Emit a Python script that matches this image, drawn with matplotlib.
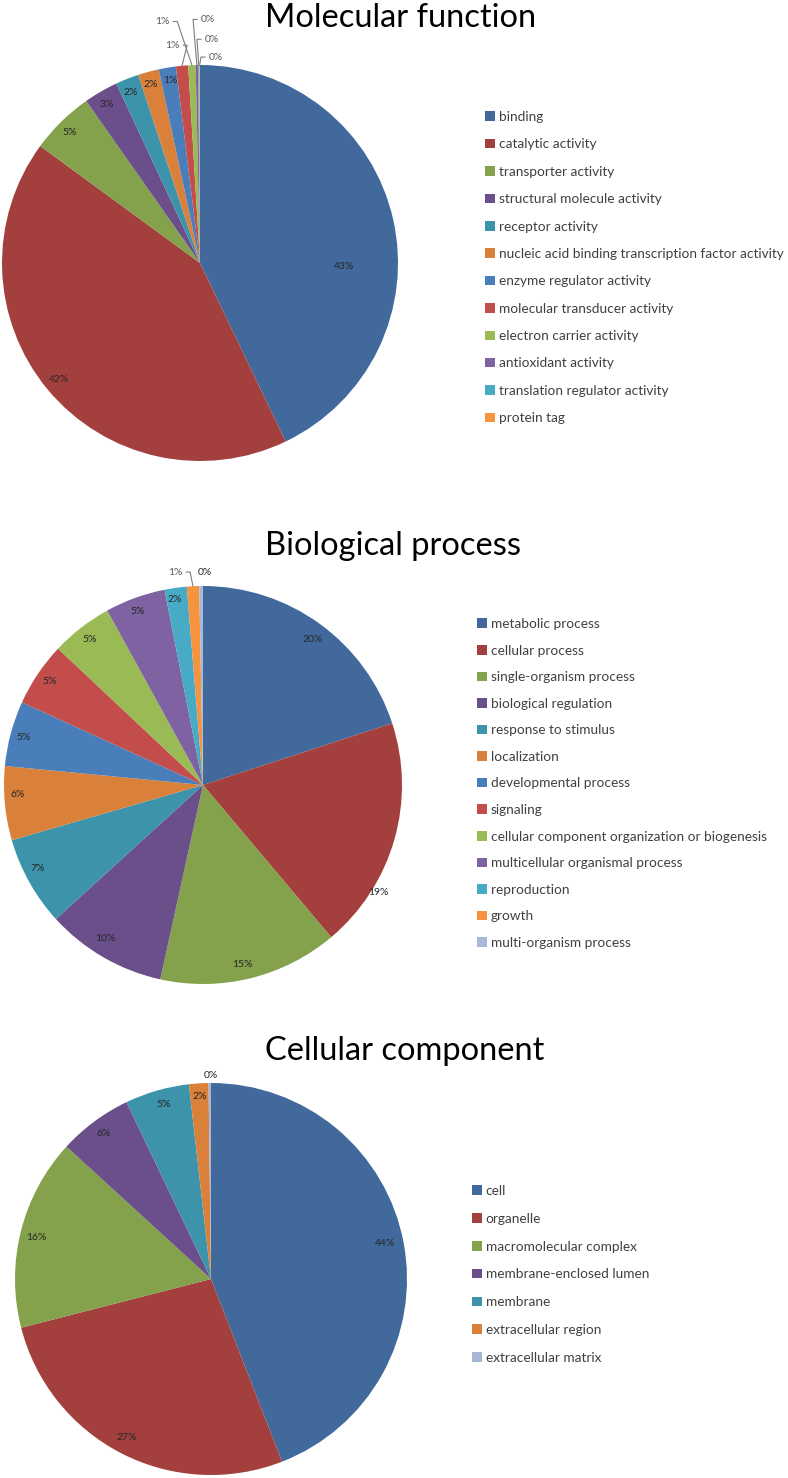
import matplotlib
matplotlib.use('Agg')
import matplotlib.pyplot as plt
import numpy as np

plt.rcParams['font.family'] = ['Lato', 'DejaVu Sans']

# Molecular function
mf_names = ['binding', 'catalytic activity', 'transporter activity', 'structural molecule activity',
            'receptor activity', 'nucleic acid binding transcription factor activity',
            'enzyme regulator activity', 'molecular transducer activity', 'electron carrier activity',
            'antioxidant activity', 'translation regulator activity', 'protein tag']
mf_values = [42.9, 42.2, 5.2, 2.8, 1.9, 1.7, 1.4, 1.0, 0.6, 0.2, 0.1, 0.05]

# Biological process
bp_names = ['metabolic process', 'cellular process', 'single-organism process', 'biological regulation',
            'response to stimulus', 'localization', 'developmental process', 'signaling',
            'cellular component organization or biogenesis', 'multicellular organismal process',
            'reproduction', 'growth', 'multi-organism process']
bp_values = [20.0, 18.9, 14.6, 9.8, 7.3, 6.0, 5.3, 5.2, 5.0, 4.9, 1.8, 1.0, 0.3]

# Cellular component
cc_names = ['cell', 'organelle', 'macromolecular complex', 'membrane-enclosed lumen', 'membrane',
            'extracellular region', 'extracellular matrix']
cc_values = [44.1, 26.9, 15.8, 6.1, 5.3, 1.6, 0.2]

colors = ['#41699C', '#A3403D', '#84A14B', '#6A4F8A', '#3D93AA', '#D9803A',
          '#4A7EBB', '#C24D4A', '#99BA55', '#7E62A1', '#47ABC6', '#F5933F', '#A7B9DB']
cc_colors = colors[:6] + ['#A9B7D6']

# label spots (in pie radii) and which labels get a leader line
mf_lbl = [(0.73, -0.02), (-0.71, -0.59), (-0.66, 0.66), (-0.47, 0.80), (-0.35, 0.86), (-0.25, 0.90),
          (-0.15, 0.92), (-0.14, 1.10), (-0.19, 1.22), (0.04, 1.23), (0.06, 1.13), (0.08, 1.04)]
mf_lead = [7, 8, 9, 10, 11]
bp_lbl = [(0.55, 0.73), (0.88, -0.54), (0.20, -0.90), (-0.49, -0.77), (-0.83, -0.42), (-0.93, -0.05),
          (-0.90, 0.24), (-0.77, 0.52), (-0.57, 0.73), (-0.33, 0.87), (-0.14, 0.93), (-0.14, 1.07),
          (0.01, 1.07)]
bp_lead = [11]
cc_lbl = [(0.89, 0.18), (-0.43, -0.81), (-0.89, 0.21), (-0.55, 0.74), (-0.24, 0.89), (-0.06, 0.93),
          (0.0, 1.04)]
cc_lead = []

W, H = 788, 1478
fig = plt.figure(figsize=(W / 100, H / 100), dpi=100)


def draw(values, names, cols, title, cx, cy, r, lbl, lead, title_y, leg_x, leg_y, leg_sp):
    ax = fig.add_axes([(cx - r) / W, (H - cy - r) / H, 2 * r / W, 2 * r / H])
    wedges, texts, autotexts = ax.pie(values, colors=cols, startangle=90,
                                      counterclock=False, autopct='%.0f%%',
                                      wedgeprops=dict(linewidth=0),
                                      textprops=dict(fontsize=7.5, color='#262626'))
    ax.set_xlim(-1, 1)
    ax.set_ylim(-1, 1)
    ax.axis('off')
    for i, t in enumerate(autotexts):
        t.set_position(lbl[i])
        if i in lead:
            t.set_color('#595959')
            w = wedges[i]
            a = np.deg2rad((w.theta1 + w.theta2) / 2)
            ex, ey = np.cos(a), np.sin(a)
            tx, ty = lbl[i]
            if tx < ex:
                sx = tx + 0.055
                kx = sx + 0.02
            else:
                sx = tx - 0.055
                kx = sx - 0.02
            ax.plot([sx, kx, ex], [ty, ty, ey], color='#7f7f7f', lw=0.8, clip_on=False)
    fig.text(265 / W, 1 - title_y / H, title, fontsize=23.5, va='baseline', ha='left')
    ax.legend(wedges, names, loc='upper left', bbox_to_anchor=(leg_x / W, 1 - leg_y / H),
              bbox_transform=fig.transFigure, frameon=False, fontsize=9.8,
              handlelength=0.7, handleheight=0.7, handletextpad=0.3,
              labelspacing=leg_sp, borderpad=0, borderaxespad=0, labelcolor='#404040')


draw(mf_values, mf_names, colors[:12], 'Molecular function', 200, 263, 198, mf_lbl, mf_lead,
     27, 485, 111, 1.13)
draw(bp_values, bp_names, colors, 'Biological process', 203, 785, 199, bp_lbl, bp_lead,
     555, 477, 618, 1.07)
draw(cc_values, cc_names, cc_colors, 'Cellular component', 211, 1279, 196, cc_lbl, cc_lead,
     1060, 472, 1185, 1.16)

fig.savefig('out.png', dpi=100)
